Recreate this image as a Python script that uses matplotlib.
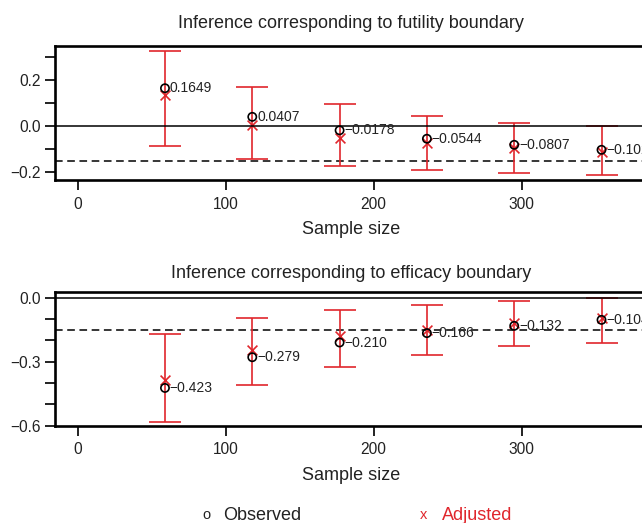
import numpy as np
import matplotlib
matplotlib.use("Agg")
import matplotlib.pyplot as plt

plt.rcParams['font.family'] = ['Liberation Sans', 'DejaVu Sans']

# sample sizes at each look
n = [59, 118, 177, 236, 295, 354]

# futility boundary panel
fut_obs = [0.1649, 0.0407, -0.0178, -0.0544, -0.0807, -0.1024]
fut_adj = [0.134, 0.007, -0.049, -0.075, -0.096, -0.111]
fut_lo = [-0.086, -0.144, -0.172, -0.191, -0.203, -0.211]
fut_hi = [0.325, 0.169, 0.095, 0.046, 0.014, 0.0]
fut_labels = ["0.1649", "0.0407", "\u22120.0178", "\u22120.0544", "\u22120.0807", "\u22120.1024"]

# efficacy boundary panel
eff_obs = [-0.423, -0.279, -0.210, -0.166, -0.132, -0.104]
eff_adj = [-0.385, -0.245, -0.180, -0.150, -0.118, -0.094]
eff_lo = [-0.582, -0.410, -0.324, -0.268, -0.227, -0.211]
eff_hi = [-0.170, -0.094, -0.058, -0.033, -0.014, 0.0]
eff_labels = ["\u22120.423", "\u22120.279", "\u22120.210", "\u22120.166", "\u22120.132", "\u22120.104"]

ref_line = -0.15
red = '#e0262c'
ink = '#222222'

fig = plt.figure(figsize=(6.42, 5.23), dpi=100)


def panel(rect, title, tpad, obs, adj, lo, hi, labels, ylim, yticks, ylabels):
    ax = fig.add_axes(rect)
    adj = np.array(adj)
    err = [adj - np.array(lo), np.array(hi) - adj]
    ax.errorbar(n, adj, yerr=err, fmt='none', ecolor=red, elinewidth=1.2,
                capsize=11.4, capthick=1.2, zorder=2)
    ax.scatter(n, adj, marker='x', color=red, s=50, linewidths=1.2, zorder=3)
    ax.scatter(n, obs, marker='o', facecolors='none', edgecolors='black',
               s=35, linewidths=1.2, zorder=4)
    for xi, yi, lab in zip(n, obs, labels):
        ax.annotate(lab, (xi, yi), xytext=(3.5, 0), textcoords='offset points',
                    ha='left', va='center', fontsize=10, color=ink, zorder=5)
    ax.axhline(0, color='black', lw=1.1, zorder=3)
    ax.axhline(ref_line, color='black', lw=1.1, ls=(0, (5, 3)), zorder=1)
    ax.set_xlim(-15.3, 384.7)
    ax.set_ylim(*ylim)
    ax.set_xticks([0, 100, 200, 300])
    ax.set_yticks(yticks)
    ax.set_yticklabels(ylabels)
    ax.tick_params(axis='x', length=7.5, width=1.4, labelsize=11.2, pad=4.5, colors=ink)
    ax.tick_params(axis='y', length=7.5, width=1.4, labelsize=11.2, pad=3, colors=ink)
    for s in ax.spines.values():
        s.set_linewidth(1.9)
    ax.set_title(title, fontsize=13, color=ink, pad=tpad)
    ax.set_xlabel("Sample size", fontsize=13, color=ink, labelpad=7)
    return ax


panel([0.0857, 0.6558, 0.922, 0.2562], "Inference corresponding to futility boundary", 13,
      fut_obs, fut_adj, fut_lo, fut_hi, fut_labels,
      (-0.2335, 0.348), [-0.2, -0.1, 0.0, 0.1, 0.2, 0.3],
      ["\u22120.2", "", "0.0", "", "0.2", ""])

panel([0.0857, 0.186, 0.922, 0.255], "Inference corresponding to efficacy boundary", 10,
      eff_obs, eff_adj, eff_lo, eff_hi, eff_labels,
      (-0.6, 0.025), [-0.6, -0.5, -0.4, -0.3, -0.2, -0.1, 0.0],
      ["\u22120.6", "", "", "\u22120.3", "", "", "0.0"])

# legend drawn as text, like the original
ly = 1 - 515 / 523
fig.text(206.7 / 642, ly, "o", fontsize=10.5, color=ink, ha='center', va='center')
fig.text(222.7 / 642, ly, "Observed", fontsize=13, color=ink, ha='left', va='center')
fig.text(424 / 642, ly, "x", fontsize=10.5, color=red, ha='center', va='center')
fig.text(441.7 / 642, ly, "Adjusted", fontsize=13, color=red, ha='left', va='center')

fig.savefig("out.png", dpi=100)
